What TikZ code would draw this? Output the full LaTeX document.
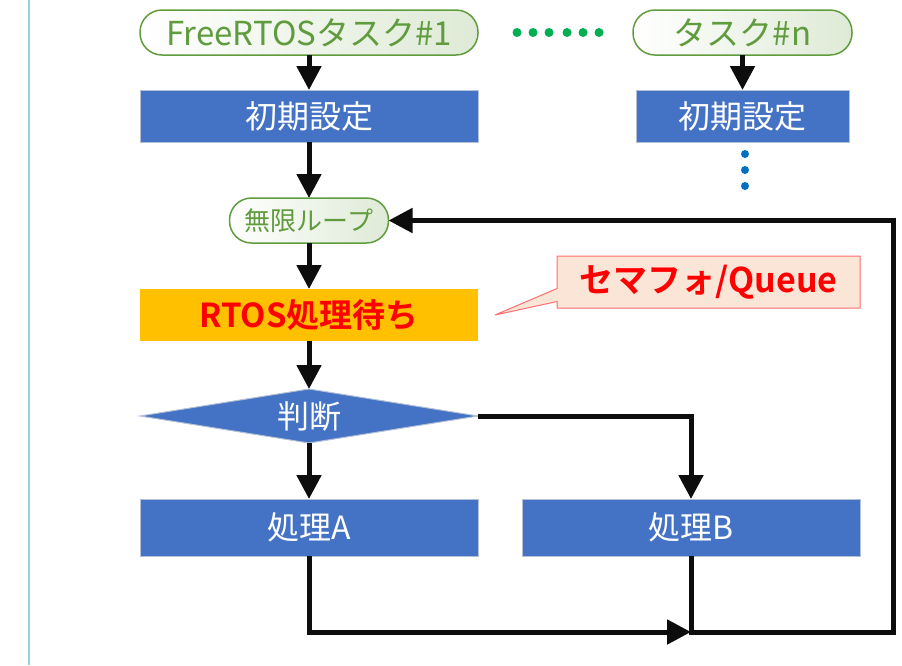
\documentclass[tikz,border=0pt]{standalone}
\usepackage{fontspec}
\setmainfont{Noto Sans CJK JP}[BoldFont={Noto Sans CJK JP Bold}]
\usetikzlibrary{positioning,shapes.geometric,shapes.callouts,arrows.meta}
\definecolor{pillgreen}{RGB}{96,156,62}
\definecolor{pillfill}{RGB}{222,234,214}
\definecolor{boxblue}{RGB}{68,114,196}
\definecolor{boxline}{RGB}{180,192,214}
\definecolor{waitorange}{RGB}{255,192,0}
\definecolor{notefill}{RGB}{251,229,214}
\definecolor{noteline}{RGB}{255,110,110}
\definecolor{greendot}{RGB}{0,176,80}
\definecolor{bluedot}{RGB}{0,112,192}
\definecolor{sideline}{RGB}{150,210,225}

\begin{document}
\begin{tikzpicture}[x=1pt, y=1pt, node distance=35pt,
    pill/.style = {draw=pillgreen, line width=1.5pt, rounded corners=22pt, left color=white, right color=pillfill, text=pillgreen, minimum height=45pt, inner sep=0pt, outer sep=0pt},
    box/.style = {draw=boxline, line width=1pt, fill=boxblue, text=white, minimum width=338pt, minimum height=52pt, inner sep=0pt, outer sep=0pt, font=\fontsize{32}{36}\selectfont},
    flow/.style = {line width=5pt, draw=black!95},
    arrow/.style = {flow, -{Triangle[length=24pt,width=24pt]}}]
    \useasboundingbox (0,0) rectangle (902,-665);
    \draw[sideline, line width=2pt] (29,0) -- (29,-665);

    \node[pill, minimum width=338pt, font=\fontsize{33}{36}\selectfont] (task1) at (309,-32.5) {FreeRTOSタスク\#1};
    \node[pill, minimum width=219pt, font=\fontsize{33}{36}\selectfont] (taskn) [right=155pt of task1] {タスク\#n};
    \node[box] (init1) [below=of task1] {初期設定};
    \node[box, minimum width=213pt] (initn) [below=of taskn] {初期設定};
    \node[pill, minimum width=159pt, font=\fontsize{26}{30}\selectfont] (loop) [below=56pt of init1] {無限ループ};
    \node[box, fill=waitorange, draw=none, text=red, font=\bfseries\fontsize{33}{36}\selectfont] (wait) [below=46pt of loop] {RTOS処理待ち};
    \node[box, diamond, aspect=6, minimum height=54pt] (judge) [below=48pt of wait] {判断};
    \node[box, minimum height=57pt] (procA) [below=56pt of judge] {処理A};
    \node[box, minimum height=57pt] (procB) [right=44pt of procA] {処理B};
    \coordinate[right=17pt of wait] (tip);
    \node[rectangle callout, callout absolute pointer={(tip)}, callout pointer width=13pt, draw=noteline, line width=1pt, fill=notefill, text=red, minimum width=303pt, minimum height=52pt, inner sep=0pt, font=\bfseries\fontsize{34}{36}\selectfont] (note) at (708.5,-282) {セマフォ/Queue};

    \foreach \x in {517,533,549,567,583,599}
        \fill[greendot] (\x,-32.5) circle (4.5pt);
    \foreach \y in {154,170,186}
        \fill[bluedot] (745,-\y) circle (4pt);

    \coordinate (join) at (procB.south |- 0,-632);
    \coordinate (corner) at (893,-632);

    \draw[arrow] (task1) -- (init1);
    \draw[arrow] (taskn) -- (initn);
    \draw[arrow] (init1) -- (loop);
    \draw[arrow] (loop) -- (wait);
    \draw[arrow] (wait) -- (judge);
    \draw[arrow] (judge) -- (procA);
    \draw[arrow] (judge.east) -| (procB);
    \draw[arrow] (procA) |- (join);
    \draw[arrow] (procB) -- (join) -- (corner) |- (loop);
\end{tikzpicture}
\end{document}
